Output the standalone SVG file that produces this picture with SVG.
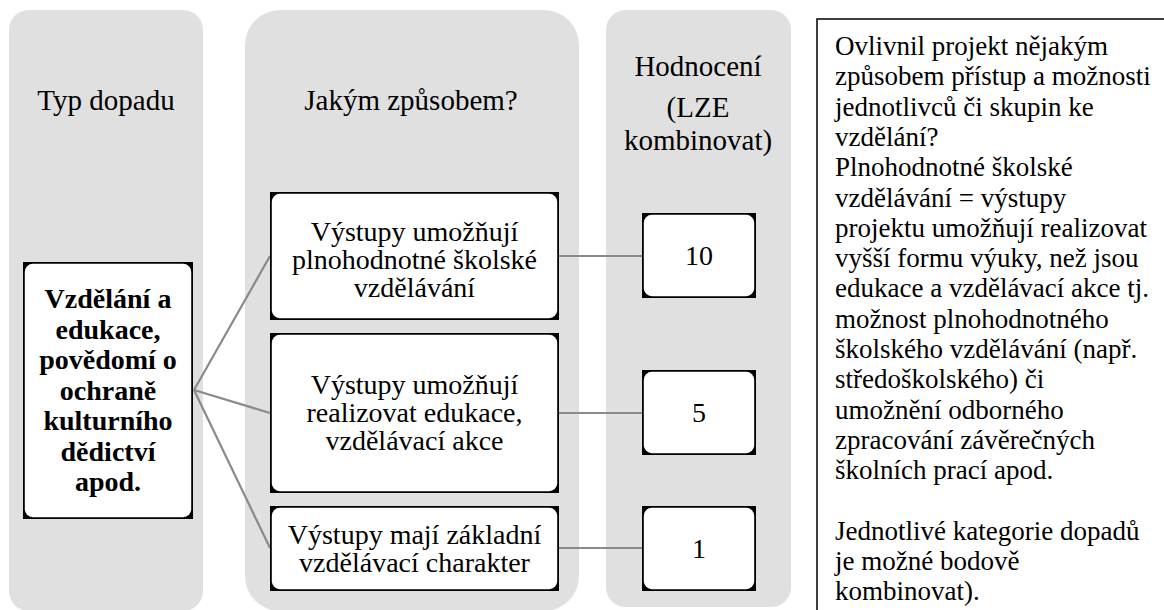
<svg xmlns="http://www.w3.org/2000/svg" width="1164" height="610" viewBox="0 0 1164 610">
<style>
.lane{fill:#e0e0e0}
.frame{fill:#000}
.inner{fill:#fff}
.conn{stroke:#8a8a8a;stroke-width:2.2;fill:none}
</style>
<rect width="1164" height="610" fill="#fff"/>
<g id="lanes" font-family="Liberation Serif, Tinos, Noto Serif, DejaVu Serif, serif">
  <rect id="lane-typ" class="lane" x="9" y="10" width="194" height="601" rx="20"/>
  <rect id="lane-zpusob" class="lane" x="245" y="10" width="334" height="601" rx="35"/>
  <rect id="lane-hodnoceni" class="lane" x="606" y="10" width="185" height="597" rx="20"/>
  <text x="106" y="110" font-size="29" text-anchor="middle">Typ dopadu</text>
  <text x="411" y="110" font-size="29" text-anchor="middle">Jakým způsobem?</text>
  <text x="698" y="76" font-size="29" text-anchor="middle">Hodnocení</text>
  <text x="698" y="117" font-size="29" text-anchor="middle">(LZE</text>
  <text x="698" y="150" font-size="29" text-anchor="middle">kombinovat)</text>
</g>
<g id="connectors">
  <path class="conn" d="M194 390 L270 256"/>
  <path class="conn" d="M194 390 L270 413"/>
  <path class="conn" d="M194 390 L270 548"/>
  <path class="conn" d="M559 256 L642 256"/>
  <path class="conn" d="M559 413 L642 413"/>
  <path class="conn" d="M559 548 L642 548"/>
</g>
<g id="node-typ" font-family="Liberation Serif, Tinos, Noto Serif, DejaVu Serif, serif" font-size="28" font-weight="bold" text-anchor="middle">
  <rect class="frame" x="23" y="262" width="170" height="257"/>
  <rect class="inner" x="24.8" y="263.8" width="166.4" height="253.4" rx="8"/>
  <text x="108" y="308">Vzdělání a</text>
  <text x="108" y="338.5">edukace,</text>
  <text x="108" y="369">povědomí o</text>
  <text x="108" y="399.5">ochraně</text>
  <text x="108" y="430">kulturního</text>
  <text x="108" y="460.5">dědictví</text>
  <text x="108" y="491">apod.</text>
</g>
<g id="node-way1" font-family="Liberation Serif, Tinos, Noto Serif, DejaVu Serif, serif" font-size="28" text-anchor="middle">
  <rect class="frame" x="270" y="192" width="289" height="128"/>
  <rect class="inner" x="271.8" y="193.8" width="285.4" height="124.4" rx="8"/>
  <text x="414.5" y="241">Výstupy umožňují</text>
  <text x="414.5" y="269">plnohodnotné školské</text>
  <text x="414.5" y="297">vzdělávání</text>
</g>
<g id="node-way2" font-family="Liberation Serif, Tinos, Noto Serif, DejaVu Serif, serif" font-size="28" text-anchor="middle">
  <rect class="frame" x="270" y="333" width="289" height="160"/>
  <rect class="inner" x="271.8" y="334.8" width="285.4" height="156.4" rx="8"/>
  <text x="414.5" y="394">Výstupy umožňují</text>
  <text x="414.5" y="422">realizovat edukace,</text>
  <text x="414.5" y="450">vzdělávací akce</text>
</g>
<g id="node-way3" font-family="Liberation Serif, Tinos, Noto Serif, DejaVu Serif, serif" font-size="28" text-anchor="middle">
  <rect class="frame" x="270" y="506" width="289" height="85"/>
  <rect class="inner" x="271.8" y="507.8" width="285.4" height="81.4" rx="8"/>
  <text x="414.5" y="544">Výstupy mají základní</text>
  <text x="414.5" y="572">vzdělávací charakter</text>
</g>
<g id="node-score10" font-family="Liberation Serif, Tinos, Noto Serif, DejaVu Serif, serif" font-size="28" text-anchor="middle">
  <rect class="frame" x="642" y="213" width="114" height="85"/>
  <rect class="inner" x="643.8" y="214.8" width="110.4" height="81.4" rx="8"/>
  <text x="699" y="265">10</text>
</g>
<g id="node-score5" font-family="Liberation Serif, Tinos, Noto Serif, DejaVu Serif, serif" font-size="28" text-anchor="middle">
  <rect class="frame" x="642" y="370" width="114" height="85"/>
  <rect class="inner" x="643.8" y="371.8" width="110.4" height="81.4" rx="8"/>
  <text x="699" y="422">5</text>
</g>
<g id="node-score1" font-family="Liberation Serif, Tinos, Noto Serif, DejaVu Serif, serif" font-size="28" text-anchor="middle">
  <rect class="frame" x="642" y="506" width="114" height="85"/>
  <rect class="inner" x="643.8" y="507.8" width="110.4" height="81.4" rx="8"/>
  <text x="699" y="558">1</text>
</g>
<g id="note" font-family="Liberation Serif, Tinos, Noto Serif, DejaVu Serif, serif" font-size="27">
  <rect x="817" y="19" width="360" height="610" fill="#fff" stroke="#000" stroke-width="1.5"/>
  <text x="835" y="55">Ovlivnil projekt nějakým</text>
  <text x="835" y="85.3">způsobem přístup a možnosti</text>
  <text x="835" y="115.6">jednotlivců či skupin ke</text>
  <text x="835" y="145.9">vzdělání?</text>
  <text x="835" y="176.2">Plnohodnotné školské</text>
  <text x="835" y="206.5">vzdělávání = výstupy</text>
  <text x="835" y="236.8">projektu umožňují realizovat</text>
  <text x="835" y="267.1">vyšší formu výuky, než jsou</text>
  <text x="835" y="297.4">edukace a vzdělávací akce tj.</text>
  <text x="835" y="327.7">možnost plnohodnotného</text>
  <text x="835" y="358">školského vzdělávání (např.</text>
  <text x="835" y="388.3">středoškolského) či</text>
  <text x="835" y="418.6">umožnění odborného</text>
  <text x="835" y="448.9">zpracování závěrečných</text>
  <text x="835" y="479.2">školních prací apod.</text>
  <text x="835" y="539.8">Jednotlivé kategorie dopadů</text>
  <text x="835" y="570.1">je možné bodově</text>
  <text x="835" y="600.4">kombinovat).</text>
</g>
</svg>
